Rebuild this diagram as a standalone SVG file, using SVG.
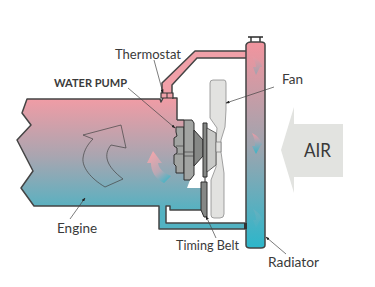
<svg xmlns="http://www.w3.org/2000/svg" width="375" height="287" viewBox="0 0 375 287">
<style>
text{font-family:"Lato","Liberation Sans",sans-serif;font-weight:400;fill:#3a3a3a;font-size:13.5px}
.ln{stroke:#444;stroke-width:.7;fill:none}
.ol{stroke:#444;stroke-width:1.5;stroke-linejoin:round;fill:none}
.g1{fill:#a2a4a2;stroke:#2e2e2e;stroke-width:1;stroke-linejoin:round}
.g2{fill:#868886;stroke:#2e2e2e;stroke-width:1;stroke-linejoin:round}
</style>
<defs>
<linearGradient id="eg" gradientUnits="userSpaceOnUse" x1="0" y1="99" x2="0" y2="212">
<stop offset="0" stop-color="#f09ca5"/><stop offset=".5" stop-color="#aaa5b0"/><stop offset="1" stop-color="#52b2c2"/>
</linearGradient>
<linearGradient id="rg" gradientUnits="userSpaceOnUse" x1="0" y1="42" x2="0" y2="247">
<stop offset="0" stop-color="#f2949e"/><stop offset=".5" stop-color="#a0a4ae"/><stop offset="1" stop-color="#2db6ca"/>
</linearGradient>
<linearGradient id="ag" gradientUnits="userSpaceOnUse" x1="120" y1="127" x2="95" y2="187">
<stop offset="0" stop-color="#b4a4ae"/><stop offset=".5" stop-color="#a4a6b0"/><stop offset="1" stop-color="#4fb2c2"/>
</linearGradient>
<linearGradient id="fl1" x1="0" y1="0" x2="0" y2="1">
<stop offset="0" stop-color="#ee98a2"/><stop offset="1" stop-color="#92a6b2"/>
</linearGradient>
<linearGradient id="fl2" x1="0" y1="0" x2="0" y2="1">
<stop offset="0" stop-color="#f09aa4"/><stop offset="1" stop-color="#36b6c8"/>
</linearGradient>
<linearGradient id="fl3" x1="0" y1="0" x2="0" y2="1">
<stop offset="0" stop-color="#7ab0bd"/><stop offset="1" stop-color="#4cb2c4"/>
</linearGradient>
<linearGradient id="cw" gradientUnits="userSpaceOnUse" x1="150" y1="155" x2="170" y2="182">
<stop offset="0" stop-color="#eea6ac"/><stop offset=".55" stop-color="#b8a8b4"/><stop offset="1" stop-color="#34b6c8"/>
</linearGradient>
<marker id="tip" markerWidth="4" markerHeight="3" refX="3.6" refY="1.5" orient="auto" markerUnits="userSpaceOnUse">
<path d="M0 0L4 1.5L0 3Z" fill="#222"/>
</marker>
</defs>
<g id="air"><path fill="#e2e3e0" d="M294 107V124H343V177H294V193L281 150Z"/><text x="304" y="157" style="font-size:20px" textLength="27" lengthAdjust="spacingAndGlyphs">AIR</text></g>
<g id="engine">
<path fill="url(#eg)" d="M27 99H160L161 102L163 98H177V120H184L190 180L187 188H203V210H170V206H166V223H245V229H159V206H34L21 188L33 171L17 140L31 125L22 113Z"/>
<path class="ol" d="M177 120V98H172M163 98L161 102L160 99H27L22 113L31 125L17 140L33 171L21 188L34 206H159V229H245V223H166V206H170V210H203M177 120H184"/>
<path fill="url(#ag)" class="ln" d="M83 135L121 125L126 148L111 145C103 155 106 166 123 179L105 187C90 178 82 167 83 158C84 150 88 144 93 139Z"/>
<text x="57" y="233">Engine</text>
</g>
<g id="hoses">
<path fill="#f0a0a8" d="M162 83L195 51H247V58H197L172 85V93H162Z"/>
<path class="ol" d="M247 51H195L162 83V93M172 93V85L197 58H247"/>
<path fill="#eea0a8" stroke="#333" stroke-width="1.2" d="M161 93H173V98H161Z"/>
<path stroke="#333" stroke-width="1" d="M167 93V98"/>
</g>
<g id="radiator">
<path fill="none" stroke="#2a2a2a" stroke-width="1.4" d="M248 37H263M251 37V42M260 37V42"/>
<path fill="url(#rg)" stroke="#444" stroke-width="1.5" d="M246 45Q247 42 251 42H261Q265 42 265 45V245Q265 248 261 248H250Q246 248 246 245Z"/>
<path fill="#333" d="M244 223H247V229H244Z"/>
<path fill="url(#fl1)" opacity=".8" d="M252 56C258 59 262 63 262 67L260 67L256 75L253 67L256 67C256 63 254 60 252 56Z"/>
<path fill="url(#fl2)" d="M252 133C258 136 262 141 262 145L261 145L256 154L252 146L255 146C255 141 254 137 252 133Z"/>
<path fill="url(#fl3)" opacity=".5" d="M253 209C258 212 262 216 262 220L260 220L256 228L253 220L256 220C256 216 255 212 253 209Z"/>
<text x="268" y="267" textLength="51" lengthAdjust="spacingAndGlyphs">Radiator</text>
</g>
<g id="fan">
<path fill="#e2e2e0" stroke="#8c8c8c" stroke-width=".8" d="M213 80H224Q226 80 226 83V110L225 127L221 140V152L224 173V214Q224 218 220 218H214Q211 218 211 215V180L216 167V140L217 128L210 118V83Q210 80 213 80Z"/>
<text x="282" y="84">Fan</text>
</g>
<g id="pump">
<path class="g1" d="M176 127H184V173H176V166L174 164V155L177 153V148L174 146V138L177 136L176 132Z"/>
<path class="g1" d="M184 120H192L194 123V175L190 180H184Z"/>
<path class="g2" d="M194 130L203 140V156L194 166Z"/>
<path class="g2" d="M203 123H207V177H203Z"/>
<path fill="#c8c9c7" stroke="#444" stroke-width=".8" d="M207 128L216 133V165L207 172Z"/>
<path class="g2" d="M201 182H207V217H204L201 210Z"/>
<path stroke="#333" stroke-width="1" d="M205 177V182"/>
<path fill="#e2e2e0" stroke="#777" stroke-width=".7" d="M216 142H221V152H216Z"/>
<path class="ln" d="M184 152H194M184 156H194M176 146H184M176 154H184"/>
<text x="54" y="87" style="font-weight:700;font-size:12px" textLength="73" lengthAdjust="spacingAndGlyphs">WATER PUMP</text>
</g>
<g id="thermostat"><text x="115" y="59" textLength="66" lengthAdjust="spacingAndGlyphs">Thermostat</text></g>
<g id="belt"><text x="176" y="250" textLength="63" lengthAdjust="spacingAndGlyphs">Timing Belt</text></g>
<g id="connectors">
<path fill="url(#cw)" d="M153 151L162 163L158 163C159 169 164 173 171 176L164 183C155 179 151 171 151 163L147 163Z"/>
<path class="ln" marker-end="url(#tip)" d="M154 60L163 93"/>
<path class="ln" marker-end="url(#tip)" d="M128 88L175 128"/>
<path class="ln" marker-end="url(#tip)" d="M274 87L226 103"/>
<path class="ln" marker-end="url(#tip)" d="M70 219L85 198"/>
<path class="ln" marker-end="url(#tip)" d="M286 254L266 237"/>
<path class="ln" marker-end="url(#tip)" d="M216 238L206 216"/>
</g>
</svg>
